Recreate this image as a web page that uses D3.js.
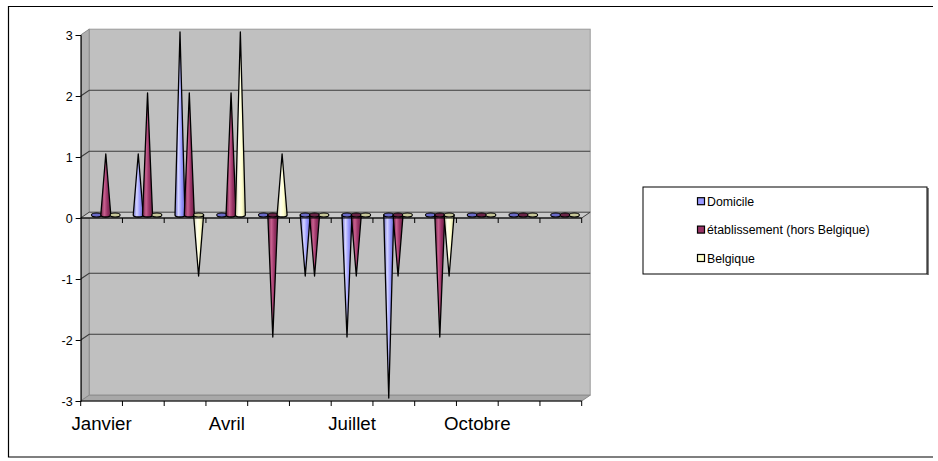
<!DOCTYPE html>
<html><head><meta charset="utf-8">
<script src="https://cdn.jsdelivr.net/npm/d3@7"></script>
<style>html,body{margin:0;padding:0;background:#fff;}svg{display:block;font-family:"Liberation Sans",Arial,sans-serif;}</style>
</head><body>
<script>
const months = ["Janvier","Février","Mars","Avril","Mai","Juin","Juillet","Août","Septembre","Octobre","Novembre","Décembre"];
const shownLabels = ["Janvier","Avril","Juillet","Octobre"];
const seriesNames = ["Domicile","établissement (hors Belgique)","Belgique"];
const domicile = [0,1,3,0,0,-1,-2,-3,0,0,0,0];
const etablissement = [1,2,2,2,-2,-1,-1,-1,-2,0,0,0];
const belgique = [0,0,-1,3,1,0,0,0,-1,0,0,0];
const yTicks = [-3,-2,-1,0,1,2,3];
const colors = ["#9999FF","#993366","#FFFFCC"];
const lights = ["#D4D4FF","#C8608F","#FFFFF0"];
const darks = ["#6A6AC8","#6A2346","#C8C89A"];

const series = [domicile, etablissement, belgique];
const W = 938, H = 461;
const svg = d3.select("body").append("svg").attr("width", W).attr("height", H);

// outer frame (top, left, bottom)
svg.append("path").attr("d","M933,6.5 H8.5 V457 H933").attr("fill","none").attr("stroke","#000").attr("stroke-width",1.2);

const x = d3.scaleBand().domain(months).range([80.7, 581.7]);
const xEdge = d3.scaleLinear().domain([0, months.length]).range([80.7, 581.7]);
const y = d3.scaleLinear().domain([-3, 3]).range([401, 35]);
const dx = 8.5, dy = -5.8;
const sub = d3.scalePoint().domain([0,1,2]).range([15.8, 34.4]);
const coneShift = -3;

const x0 = xEdge(0), x1 = xEdge(12), yTop = y(3), yBot = y(-3);

// gradients
const defs = svg.append("defs");
colors.forEach((c,i)=>{
  const g = defs.append("linearGradient").attr("id","g"+i).attr("x1","0").attr("x2","1").attr("y1","0").attr("y2","0");
  g.append("stop").attr("offset","0%").attr("stop-color",darks[i]);
  g.append("stop").attr("offset","35%").attr("stop-color",lights[i]);
  g.append("stop").attr("offset","65%").attr("stop-color",c);
  g.append("stop").attr("offset","100%").attr("stop-color",darks[i]);
});

// back wall
svg.append("rect").attr("x",x0+dx).attr("y",yTop+dy).attr("width",x1-x0).attr("height",yBot-yTop)
  .attr("fill","#C0C0C0").attr("stroke","#9a9a9a").attr("stroke-width",1);
// side wall
svg.append("path").attr("d",`M${x0},${yTop} L${x0+dx},${yTop+dy} L${x0+dx},${yBot+dy} L${x0},${yBot} Z`)
  .attr("fill","#B0B0B0").attr("stroke","#8a8a8a").attr("stroke-width",1);
// floor
svg.append("path").attr("d",`M${x0},${yBot} L${x0+dx},${yBot+dy} L${x1+dx},${yBot+dy} L${x1},${yBot} Z`)
  .attr("fill","#A8A8A8").attr("stroke","#8a8a8a").attr("stroke-width",1);

// gridlines
yTicks.filter(t=>t!==0 && t!==-3 && t!==3).forEach(t=>{
  svg.append("path").attr("d",`M${x0},${y(t)} L${x0+dx},${y(t)+dy} H${x1+dx}`)
    .attr("fill","none").attr("stroke","#3c3c3c").attr("stroke-width",1.1);
});
// zero plane
svg.append("path").attr("d",`M${x0},${y(0)} L${x0+dx},${y(0)+dy} L${x1+dx},${y(0)+dy} L${x1},${y(0)} Z`)
  .attr("fill","#CACACA").attr("stroke","#333").attr("stroke-width",0.9);

// cones
const coneG = svg.append("g");
const rx = 5, ry = 2;
months.forEach((m,i)=>{
  series.forEach((s,j)=>{
    const v = s[i];
    const cx = x(m) + sub(j);
    const by = y(0) + coneShift;
    const ty = y(v) + coneShift;
    if (v === 0) {
      coneG.append("ellipse").attr("cx",cx).attr("cy",by).attr("rx",rx).attr("ry",ry)
        .attr("fill",darks[j]).attr("stroke","#000").attr("stroke-width",1.1);
    } else if (v > 0) {
      coneG.append("path")
        .attr("d",`M${cx-rx},${by} L${cx},${ty} L${cx+rx},${by} A${rx},${ry} 0 0 1 ${cx-rx},${by} Z`)
        .attr("fill",`url(#g${j})`).attr("stroke","#000").attr("stroke-width",1.3).attr("stroke-linejoin","round");
    } else {
      coneG.append("path")
        .attr("d",`M${cx-rx},${by} L${cx},${ty} L${cx+rx},${by} Z`)
        .attr("fill",`url(#g${j})`).attr("stroke","#000").attr("stroke-width",1.3).attr("stroke-linejoin","round");
      coneG.append("ellipse").attr("cx",cx).attr("cy",by).attr("rx",rx).attr("ry",ry)
        .attr("fill",darks[j]).attr("stroke","#000").attr("stroke-width",1.2);
    }
  });
});

// zero front line with ticks
svg.append("line").attr("x1",x0).attr("x2",x1).attr("y1",y(0)).attr("y2",y(0)).attr("stroke","#000").attr("stroke-width",1);
d3.range(1,13).forEach(k=>{
  svg.append("line").attr("x1",xEdge(k)).attr("x2",xEdge(k)).attr("y1",y(0)).attr("y2",y(0)+5).attr("stroke","#000");
});

// y axis
const yAxis = svg.append("g").attr("transform",`translate(${x0},0)`)
  .call(d3.axisLeft(y).tickValues(yTicks).tickSize(5).tickPadding(3).tickFormat(d=>String(d)));
yAxis.select(".domain").attr("stroke","#000");
yAxis.selectAll("text").attr("font-size",12.5).attr("fill","#000").attr("font-family","Liberation Sans, Arial, sans-serif");

// x axis bottom
svg.append("line").attr("x1",x0).attr("x2",x1).attr("y1",yBot).attr("y2",yBot).attr("stroke","#000");
d3.range(0,13).forEach(k=>{
  svg.append("line").attr("x1",xEdge(k)).attr("x2",xEdge(k)).attr("y1",yBot).attr("y2",yBot+5).attr("stroke","#000");
});
svg.selectAll(".xl").data(shownLabels).enter().append("text")
  .attr("x",d=>x(d)+x.bandwidth()/2).attr("y",yBot+29).attr("text-anchor","middle")
  .attr("font-size",18.7).attr("fill","#000").text(d=>d);

// legend
const lg = svg.append("g");
lg.append("rect").attr("x",927).attr("y",188).attr("width",2).attr("height",87).attr("fill","#808080");
lg.append("rect").attr("x",643).attr("y",187).attr("width",284).attr("height",87)
  .attr("fill","#fff").attr("stroke","#000").attr("stroke-width",1);
const rowY = d3.scalePoint().domain(seriesNames).range([201.7, 258.5]);
seriesNames.forEach((n,i)=>{
  lg.append("rect").attr("x",697.5).attr("y",rowY(n)-4).attr("width",7).attr("height",7)
    .attr("fill",colors[i]).attr("stroke","#000").attr("stroke-width",1.2);
  lg.append("text").attr("x",707).attr("y",rowY(n)+4.3).attr("font-size",12.3).attr("fill","#000").text(n);
});
</script>
</body></html>
